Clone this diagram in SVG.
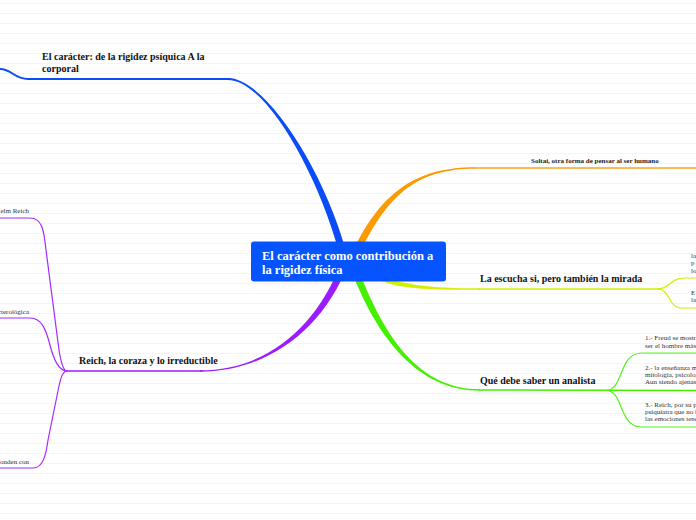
<svg xmlns="http://www.w3.org/2000/svg" width="696" height="520" viewBox="0 0 696 520">
  <defs>
    <pattern id="lines" x="0" y="0" width="696" height="10" patternUnits="userSpaceOnUse">
      <rect x="0" y="3" width="696" height="1" fill="#f4f4f4"/>
    </pattern>
    <style>
      .lbl { font-family: "Liberation Serif", "Times New Roman", serif; font-weight: bold; font-size: 10px; fill: #111; }
      .sm { font-family: "Liberation Serif", "Times New Roman", serif; font-size: 7px; fill: #333; }
      .smb { font-family: "Liberation Serif", "Times New Roman", serif; font-weight: bold; font-size: 7px; fill: #222; }
      .ctr { font-family: "Liberation Serif", "Times New Roman", serif; font-weight: bold; font-size: 12.5px; fill: #fff; }
      .ln { fill: none; stroke-linecap: round; stroke-linejoin: round; }
    </style>
  </defs>
  <rect width="696" height="520" fill="#fff"/>
  <rect width="696" height="520" fill="url(#lines)"/>

  <g id="connectors">
    <!-- blue -->
    <path d="M345.4,249.1 C323.4,169.1 265,78 228,78 L228,80 C265,80 316.6,170.9 338.6,250.9 Z" fill="#0a4cf5"/>
    <path class="ln" d="M0,69 C12,69 14,79 28,79 L230,79" stroke="#0a4cf5" stroke-width="2"/>
    <!-- orange -->
    <path d="M358.2,256.5 C388.2,191.5 420,168.8 475,168.8 L475,167.2 C420,167.2 381.8,188.5 351.8,253.5 Z" fill="#ff9900"/>
    <path class="ln" d="M474,168 L696,168" stroke="#ffa21a" stroke-width="1.5"/>
    <!-- yellow-green -->
    <path d="M368.4,274.5 C393.4,290.5 430,289.7 480,289.7 L480,288.3 C430,288.3 396.6,285.5 371.6,269.5 Z" fill="#d4f000"/>
    <path class="ln" d="M479,289 L660,289" stroke="#d4f000" stroke-width="1.5"/>
    <path class="ln" d="M658,289 C670,289 670,278 684,278 L696,278" stroke="#d4f000" stroke-width="1.2"/>
    <path class="ln" d="M658,289 C670,289 668,308 682,308 L696,308" stroke="#d4f000" stroke-width="1.2"/>
    <!-- green -->
    <path d="M348.7,263.2 C376.7,341.2 420,390.7 480,390.7 L480,389.3 C420,389.3 383.3,338.8 355.3,260.8 Z" fill="#44f000"/>
    <path class="ln" d="M479,390 L696,390.5" stroke="#44f000" stroke-width="1.5"/>
    <path class="ln" d="M606,390.5 C624,390.5 618,353 642,353 L696,353" stroke="#55f020" stroke-width="1.2"/>
    <path class="ln" d="M606,390.5 C624,390.5 618,427 642,427 L696,427" stroke="#55f020" stroke-width="1.2"/>
    <!-- purple -->
    <path d="M341.7,260.8 C316.7,328.8 265,370.3 200,370.3 L200,371.7 C265,371.7 323.3,331.2 348.3,263.2 Z" fill="#9a1cff"/>
    <path class="ln" d="M202,371 L65,371" stroke="#9a1cff" stroke-width="1.5"/>
    <path class="ln" d="M0,218 L30,218 C42,218 44,230 46,250 L59,350 C61,363 63,369 66,371" stroke="#a52aff" stroke-width="1.2"/>
    <path class="ln" d="M0,318 L30,318 C42,318 46,330 50,345 C54,361 59,370 66,371" stroke="#a52aff" stroke-width="1.2"/>
    <path class="ln" d="M0,468 L33,468 C43,468 46,455 48,440 L59,386 C61,376 63,372 66,371" stroke="#a52aff" stroke-width="1.2"/>
  </g>

  <g id="center">
    <rect x="251" y="241.5" width="195" height="40" rx="3" fill="#0654ff"/>
    <text class="ctr" x="262" y="259.5">El carácter como contribución a</text>
    <text class="ctr" x="262" y="274">la rigidez física</text>
  </g>

  <g id="n-caracter">
    <text class="lbl" x="42" y="60">El carácter: de la rigidez psíquica A la</text>
    <text class="lbl" x="42" y="71.5">corporal</text>
  </g>

  <g id="n-soltai">
    <text class="smb" x="531" y="162.5">Soltai, otra forma de pensar al ser humano</text>
  </g>

  <g id="n-escucha">
    <text class="lbl" x="480" y="282">La escucha si, pero también la mirada</text>
  </g>
  <g id="n-escucha-1">
    <text class="sm" x="691" y="257.5">la</text>
    <text class="sm" x="691" y="265">p</text>
    <text class="sm" x="691" y="272.5">lo</text>
  </g>
  <g id="n-escucha-2">
    <text class="sm" x="691" y="294.5">E</text>
    <text class="sm" x="691" y="301.5">la</text>
  </g>

  <g id="n-analista">
    <text class="lbl" x="480" y="384">Qué debe saber un analista</text>
  </g>
  <g id="n-analista-1">
    <text class="sm" x="645" y="340">1.- Freud se mostr</text>
    <text class="sm" x="645" y="348">ser el hombre más</text>
  </g>
  <g id="n-analista-2">
    <text class="sm" x="645" y="370">2.- la enseñanza m</text>
    <text class="sm" x="645" y="377">mitología, psicolog</text>
    <text class="sm" x="645" y="384">Aun siendo ajenas</text>
  </g>
  <g id="n-analista-3">
    <text class="sm" x="645" y="407">3.- Reich, por su p</text>
    <text class="sm" x="645" y="414">psiquiatra que no l</text>
    <text class="sm" x="645" y="421">las emociones tenc</text>
  </g>

  <g id="n-reich">
    <text class="lbl" x="79" y="364">Reich, la coraza y lo irreductible</text>
  </g>
  <g id="n-reich-1">
    <text class="sm" x="29" y="213" text-anchor="end">elm Reich</text>
  </g>
  <g id="n-reich-2">
    <text class="sm" x="29" y="314" text-anchor="end">cterológica</text>
  </g>
  <g id="n-reich-3">
    <text class="sm" x="29" y="464" text-anchor="end">onden con</text>
  </g>
</svg>
